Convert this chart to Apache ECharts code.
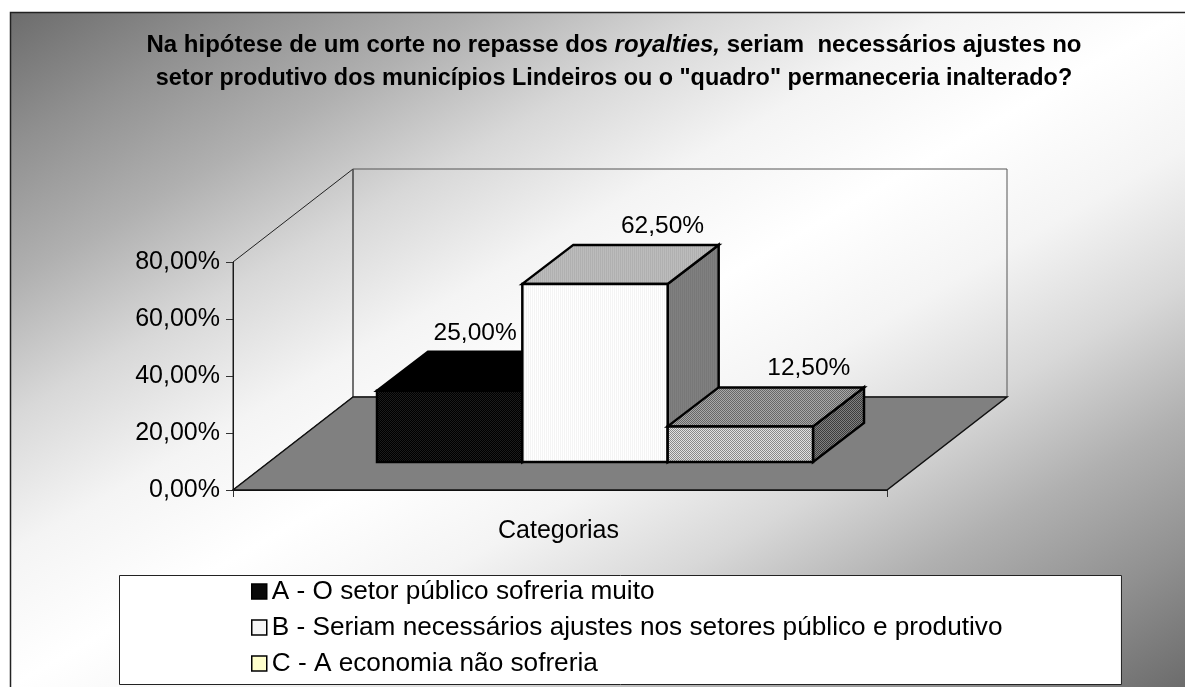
<!DOCTYPE html>
<html><head><meta charset="utf-8">
<style>html,body{margin:0;padding:0;background:#fff}#c{width:1185px;height:687px}</style>
<script src="https://cdn.jsdelivr.net/npm/echarts@6/dist/echarts.min.js"></script>
</head><body><div id="c"></div>
<script>
const categories = ['Categorias'];
const seriesNames = [
  'A - O setor público sofreria muito',
  'B - Seriam necessários ajustes nos setores público e produtivo',
  'C - A economia não sofreria'
];
const valuesA = [25];
const valuesB = [62.5];
const valuesC = [12.5];
const yTicks = [0, 20, 40, 60, 80];

const FONT = '"Liberation Sans", Arial, sans-serif';
function pat(a, b) {
  const c = document.createElement('canvas'); c.width = 2; c.height = 2;
  const g = c.getContext('2d');
  g.fillStyle = a; g.fillRect(0,0,2,2);
  g.fillStyle = b; g.fillRect(0,0,1,1); g.fillRect(1,1,1,1);
  return {image: c, repeat: 'repeat'};
}
function stripes(a, b) {
  const c = document.createElement('canvas'); c.width = 2; c.height = 2;
  const g = c.getContext('2d');
  g.fillStyle = a; g.fillRect(0,0,2,2);
  g.fillStyle = b; g.fillRect(0,0,1,2);
  return {image: c, repeat: 'repeat'};
}
const fmt = v => v.toFixed(2).replace('.', ',') + '%';
// depth of the 3D box
const floorDX = 120, floorDY = 93;
const frontDX = 35, frontDY = 28;
const boxDX = 51, boxDY = 39;
const barsInBand = 4.5;

const faces = [
  {front: pat('#000','#1c1c1c'), top: '#000', side: '#000', labelDX: 0},
  {front: stripes('#fff','#f4f4f4'), top: stripes('#bcbcbc','#b0b0b0'), side: stripes('#808080','#787878'), labelDX: 42},
  {front: pat('#e2e2e2','#8a8a8a'), top: pat('#a8a8a8','#666'), side: pat('#808080','#3c3c3c'), labelDX: 43}
];

function poly(pts, fill, stroke, lw) {
  return {type:'polygon', shape:{points:pts}, style:{fill:fill, stroke:stroke, lineWidth:lw, lineJoin:'miter'}};
}
function bar(idx) {
  return function(params, api) {
    const base = api.coord([0, 0]);
    const top = api.coord([0, api.value(1)]);
    const band = api.size([1, 0])[0];
    const w = band / barsInBand;
    const x0 = base[0] + frontDX - 1.5 * w + idx * w;
    const x1 = x0 + w;
    const y0 = base[1] - frontDY;
    const y1 = top[1] - frontDY;
    const f = faces[idx];
    return {type:'group', children:[
      poly([[x1,y1],[x1+boxDX,y1-boxDY],[x1+boxDX,y0-boxDY],[x1,y0]], f.side, '#000', 2.5),
      poly([[x0,y1],[x1,y1],[x1+boxDX,y1-boxDY],[x0+boxDX,y1-boxDY]], f.top, '#000', 2.5),
      poly([[x0,y0],[x1,y0],[x1,y1],[x0,y1]], f.front, '#000', 2.5),
      {type:'text', x:x0+w/2+boxDX/2+f.labelDX, y:y1-boxDY-19,
       style:{text:fmt(api.value(1)), fill:'#000', font:'24.5px '+FONT, align:'center', verticalAlign:'middle'}}
    ]};
  };
}
function walls(params, api) {
  const b = api.coord([0, 0]);
  const t = api.coord([0, yTicks[yTicks.length-1]]);
  const band = api.size([1, 0])[0];
  const l = b[0] - band/2, r = b[0] + band/2, y0 = b[1], y1 = t[1];
  const dx = floorDX, dy = floorDY;
  return {type:'group', children:[
    poly([[l,y0],[l,y1],[l+dx,y1-dy],[l+dx,y0-dy]], 'rgba(0,0,0,0)', '#222', 1),
    poly([[l+dx,y1-dy],[r+dx,y1-dy],[r+dx,y0-dy],[l+dx,y0-dy]], 'rgba(0,0,0,0)', '#555', 1),
    poly([[l,y0],[r,y0],[r+dx,y0-dy],[l+dx,y0-dy]], '#808080', '#111', 1.5)
  ]};
}
const chart = echarts.init(document.getElementById('c'), null, {renderer:'canvas'});
const titleStyle = {fontFamily:FONT, fontWeight:'bold', color:'#000', lineHeight:33};
chart.setOption({
  animation:false,
  backgroundColor:'#fff',
  graphic:[{type:'rect', z:-1, silent:true, shape:{x:10.5,y:12.5,width:1180,height:680},
    style:{stroke:'#222', lineWidth:1.5, fill:{type:'linear',x:306,y:-158,x2:889,y2:857,global:true,
      colorStops:[
        {offset:0,color:'#6c6c6c'},{offset:0.1,color:'#909090'},{offset:0.2,color:'#b0b0b0'},
        {offset:0.3,color:'#d8d8d8'},{offset:0.4,color:'#f4f4f4'},{offset:0.5,color:'#ffffff'},
        {offset:0.6,color:'#f4f4f4'},{offset:0.7,color:'#d8d8d8'},{offset:0.8,color:'#b0b0b0'},
        {offset:0.9,color:'#909090'},{offset:1,color:'#6c6c6c'}]}}}],
  title:{
    left:609, top:24, textAlign:'center',
    text:'{a|Na hipótese de um corte no repasse dos }{i|royalties,}{a| seriam  necessários ajustes no}\n{b|setor produtivo dos municípios Lindeiros ou o "quadro" permaneceria inalterado?}',
    textStyle:Object.assign({fontSize:24}, titleStyle, {
      rich:{
        a:Object.assign({fontSize:24}, titleStyle),
        i:Object.assign({fontSize:24, fontStyle:'italic'}, titleStyle),
        b:Object.assign({fontSize:23.4}, titleStyle)
      }})
  },
  legend:{
    orient:'vertical', left:119.5, top:575.5, data:seriesNames.map((n,i)=>({name:n, icon:'rect',
      itemStyle:{color:['#0a0a0a','#f6f6f6','#ffffcc'][i], borderColor:'#000', borderWidth:1.5}})),
    itemWidth:15, itemHeight:15, itemGap:10, padding:[3,119,8,131.5],
    backgroundColor:'#fff', borderColor:'#222', borderWidth:1, selectedMode:false,
    textStyle:{fontFamily:FONT, fontSize:26.2, color:'#000'}
  },
  grid:{left:233, top:262, width:654, height:228, containLabel:false},
  xAxis:{type:'category', data:categories,
    axisLine:{show:true, lineStyle:{color:'#111', width:1}},
    axisTick:{show:true, length:7, lineStyle:{color:'#333'}},
    axisLabel:{color:'#000', fontFamily:FONT, fontSize:25, margin:29, padding:[0,3,0,0]}},
  yAxis:{type:'value', min:0, max:80, interval:20,
    axisLine:{show:true, lineStyle:{color:'#111', width:1}},
    axisTick:{show:true, length:7, lineStyle:{color:'#333'}},
    splitLine:{show:false},
    axisLabel:{color:'#000', fontFamily:FONT, fontSize:25, margin:13, formatter:fmt}},
  series:[
    {type:'custom', name:'walls', renderItem:walls, data:[[0,0]], z:1, clip:false, silent:true},
    {type:'custom', name:seriesNames[0], renderItem:bar(0), data:valuesA.map((v,i)=>[i,v]), z:2, clip:false, itemStyle:{color:'#0a0a0a'}},
    {type:'custom', name:seriesNames[1], renderItem:bar(1), data:valuesB.map((v,i)=>[i,v]), z:3, clip:false, itemStyle:{color:'#f6f6f6'}},
    {type:'custom', name:seriesNames[2], renderItem:bar(2), data:valuesC.map((v,i)=>[i,v]), z:4, clip:false, itemStyle:{color:'#ffffcc'}}
  ]
});
</script></body></html>
